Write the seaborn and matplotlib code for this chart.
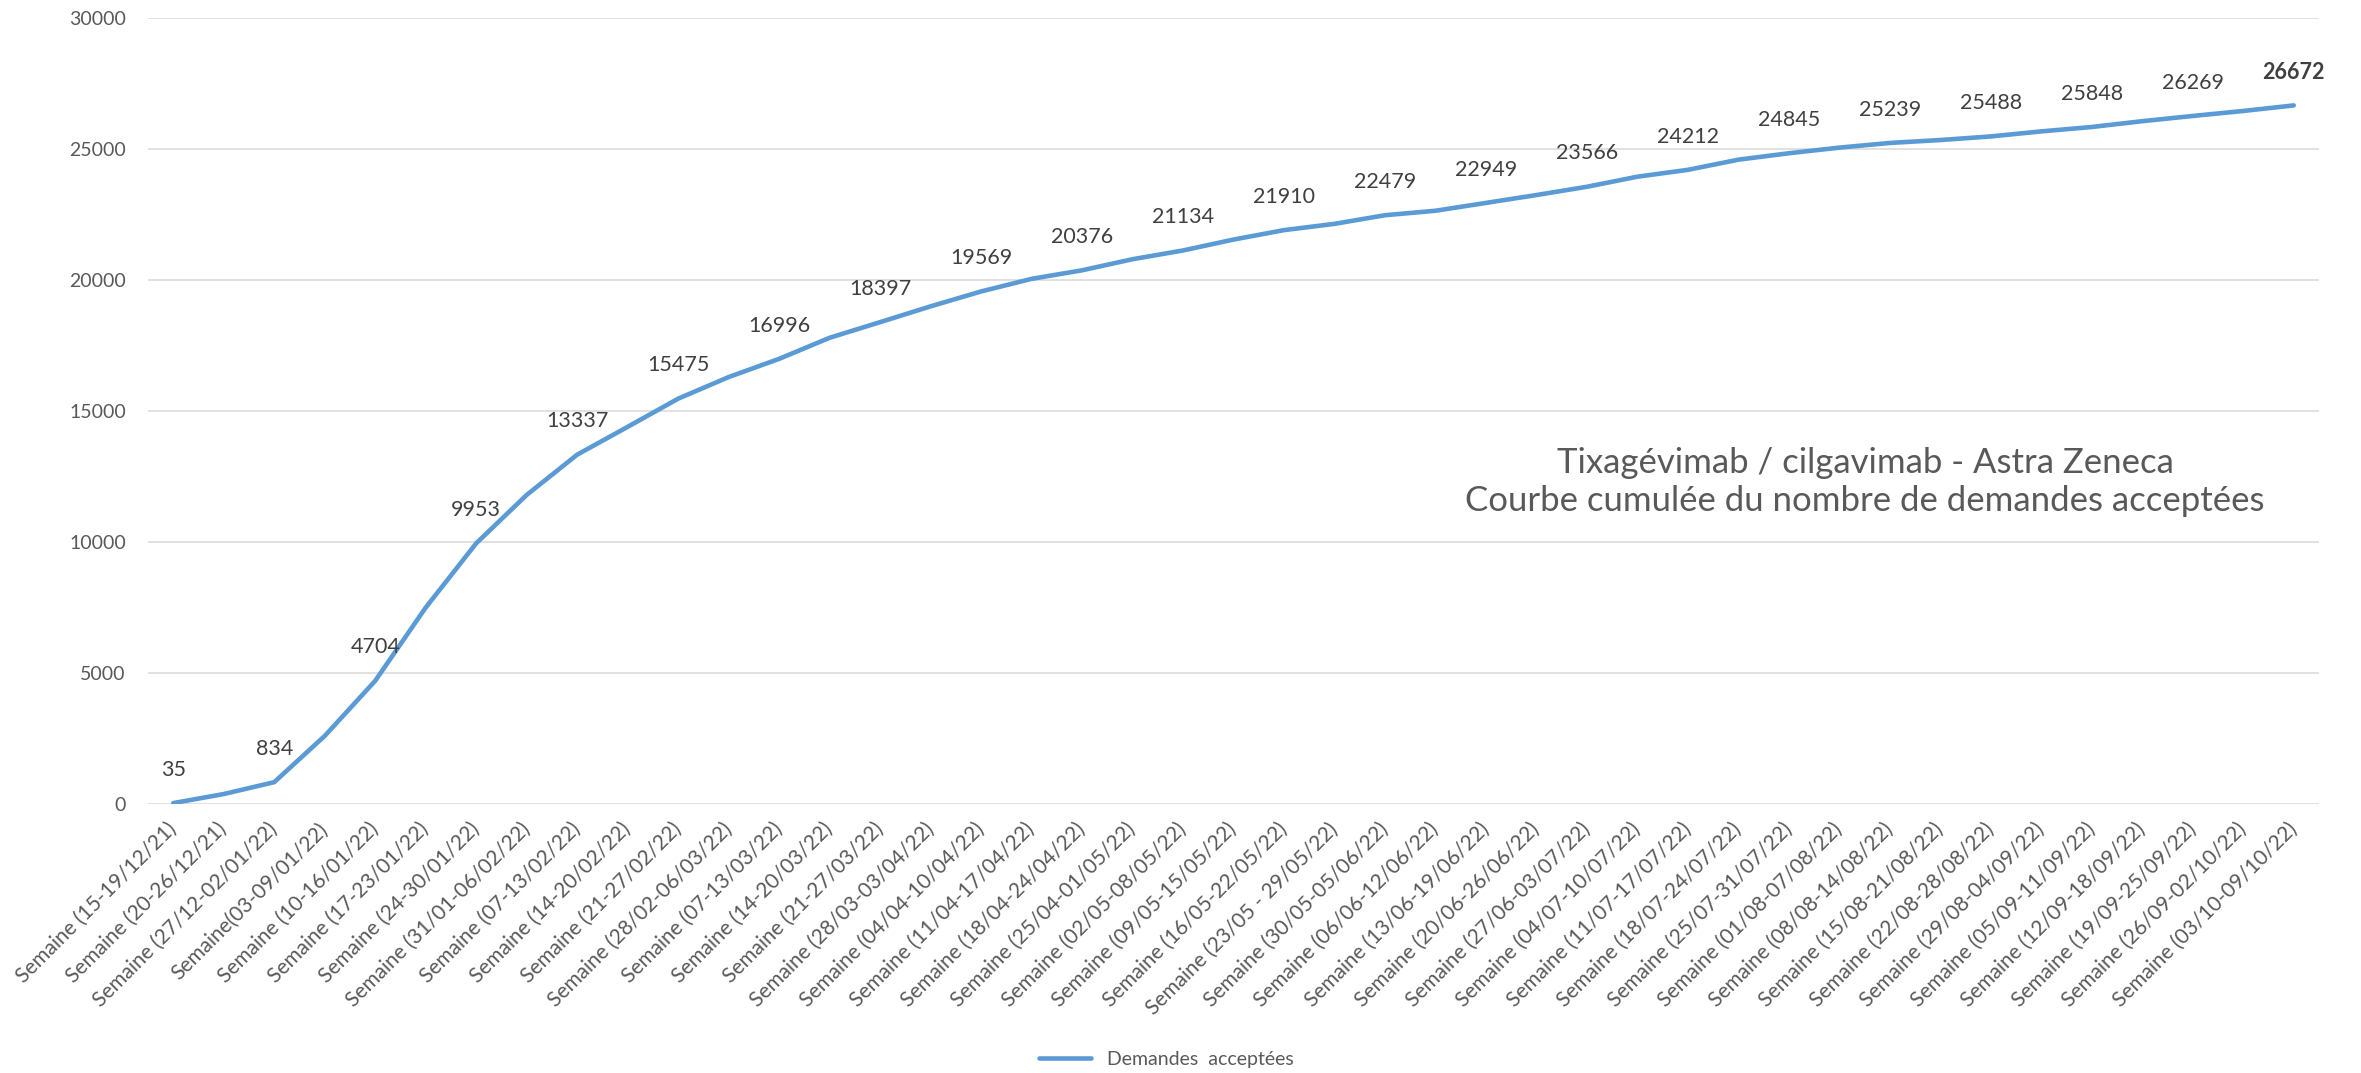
import numpy as np
import pandas as pd
import matplotlib
matplotlib.use("Agg")
import matplotlib.pyplot as plt
import seaborn as sns

semaines = [
    "Semaine (15-19/12/21)", "Semaine (20-26/12/21)", "Semaine (27/12-02/01/22)",
    "Semaine(03-09/01/22)", "Semaine (10-16/01/22)", "Semaine (17-23/01/22)",
    "Semaine (24-30/01/22)", "Semaine (31/01-06/02/22)", "Semaine (07-13/02/22)",
    "Semaine (14-20/02/22)", "Semaine (21-27/02/22)", "Semaine (28/02-06/03/22)",
    "Semaine (07-13/03/22)", "Semaine (14-20/03/22)", "Semaine (21-27/03/22)",
    "Semaine (28/03-03/04/22)", "Semaine (04/04-10/04/22)", "Semaine (11/04-17/04/22)",
    "Semaine (18/04-24/04/22)", "Semaine (25/04-01/05/22)", "Semaine (02/05-08/05/22)",
    "Semaine (09/05-15/05/22)", "Semaine (16/05-22/05/22)", "Semaine (23/05 - 29/05/22)",
    "Semaine (30/05-05/06/22)", "Semaine (06/06-12/06/22)", "Semaine (13/06-19/06/22)",
    "Semaine (20/06-26/06/22)", "Semaine (27/06-03/07/22)", "Semaine (04/07-10/07/22)",
    "Semaine (11/07-17/07/22)", "Semaine (18/07-24/07/22)", "Semaine (25/07-31/07/22)",
    "Semaine (01/08-07/08/22)", "Semaine (08/08-14/08/22)", "Semaine (15/08-21/08/22)",
    "Semaine (22/08-28/08/22)", "Semaine (29/08-04/09/22)", "Semaine (05/09-11/09/22)",
    "Semaine (12/09-18/09/22)", "Semaine (19/09-25/09/22)", "Semaine (26/09-02/10/22)",
    "Semaine (03/10-09/10/22)",
]

demandes = [35, 380, 834, 2600, 4704, 7500, 9953, 11800, 13337, 14400,
            15475, 16300, 16996, 17800, 18397, 19000, 19569, 20050, 20376, 20800,
            21134, 21550, 21910, 22150, 22479, 22650, 22949, 23250, 23566, 23950,
            24212, 24600, 24845, 25060, 25239, 25350, 25488, 25680, 25848, 26070,
            26269, 26460, 26672]

y_ticks = [0, 5000, 10000, 15000, 20000, 25000, 30000]

sns.set_style("white")
plt.rcParams['font.family'] = ['Lato', 'DejaVu Sans']

df = pd.DataFrame({'pos': np.arange(len(semaines)), 'val': demandes})

fig = plt.figure(figsize=(23.61, 10.73), dpi=100)
ax = fig.add_axes([0.0627, 0.2507, 0.9195, 0.7323])

sns.lineplot(data=df, x='pos', y='val', ax=ax, color='#5B9BD5', linewidth=3.3,
             label='Demandes  acceptées', legend=False)

ax.set_xlim(-0.5, len(semaines) - 0.5)
ax.set_ylim(0, 30000)
ax.set_yticks(y_ticks)
ax.set_yticklabels([str(v) for v in y_ticks])
ax.yaxis.grid(True, color='#D9D9D9', linewidth=1.1)
ax.set_axisbelow(True)
for s in ax.spines.values():
    s.set_visible(False)
ax.tick_params(axis='y', length=0, pad=16, labelsize=14, labelcolor='#595959')
ax.tick_params(axis='x', length=0, pad=16, labelcolor='#595959')
ax.set_xticks(df['pos'])
ax.set_xticklabels(semaines, rotation=45, ha='right', va='center',
                   rotation_mode='anchor', fontsize=15)
ax.set_xlabel('')
ax.set_ylabel('')

# labels une semaine sur deux
for i in range(0, len(demandes), 2):
    bold = i == len(demandes) - 1
    ax.annotate(str(demandes[i]), (i, demandes[i]), xytext=(0, 24),
                textcoords='offset points', ha='center', va='center',
                fontsize=15.5, color='#404040',
                fontweight='bold' if bold else 'normal')

fig.text(0.79, 0.551, "Tixagévimab / cilgavimab - Astra Zeneca\nCourbe cumulée du nombre de demandes acceptées",
         ha='center', va='center', fontsize=25, color='#595959', linespacing=1.25)

h, l = ax.get_legend_handles_labels()
fig.legend(h, l, loc='center', bbox_to_anchor=(0.494, 0.013), frameon=False,
           fontsize=14, handlelength=2.7, labelcolor='#595959')

fig.savefig('out.png', dpi=100)
